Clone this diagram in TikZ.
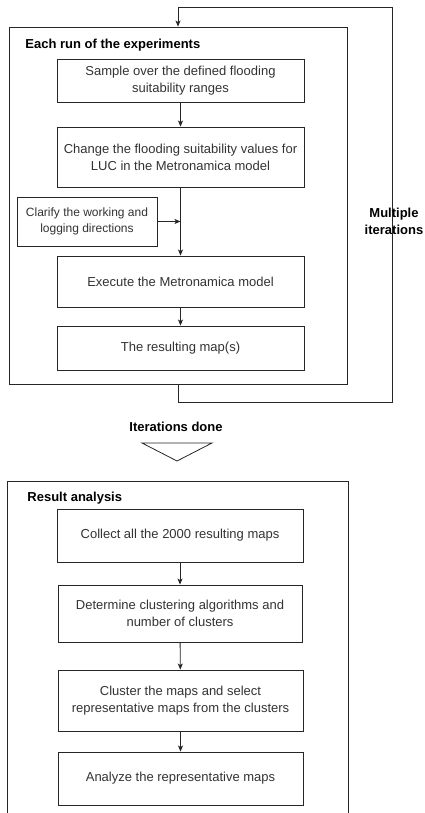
\documentclass[tikz,border=0pt]{standalone}
\usepackage{fontspec}
\setmainfont{Liberation Sans}
\usetikzlibrary{arrows.meta}
\definecolor{txt}{HTML}{333333}
\definecolor{ln}{HTML}{262626}
\begin{document}
\begin{tikzpicture}[x=1pt,y=-1pt,
  line width=0.9pt,
  arr/.style={draw=ln,-{Stealth[length=6pt,width=5pt,inset=1.5pt]}},
  stepbox/.style={draw=ln,rectangle,align=center,text=txt,inner sep=2pt,
    font=\fontsize{13}{17}\selectfont},
  smallbox/.style={stepbox,font=\fontsize{12}{16}\selectfont},
  frame/.style={draw=ln,rectangle,inner sep=0pt},
  title/.style={inner sep=0pt,font=\bfseries\fontsize{13}{17}\selectfont,text=black,align=center}]
\useasboundingbox (0,0) rectangle (424,813);
\clip (0,0) rectangle (424,813);
\fill[white] (0,0) rectangle (424,813);

% outer frames
\node[frame,minimum width=338pt,minimum height=357pt] (run) at (178,205.5) {};
\node[frame,minimum width=341pt,minimum height=349pt] (res) at (177.5,655.5) {};

% titles
\node[title,anchor=west] (runtitle) at (25,45) {Each run of the experiments};
\node[title,anchor=west] (restitle) at (27,498) {Result analysis};

% first block
\node[stepbox,minimum width=247pt,minimum height=43pt] (A) at (180.5,80.5) {Sample over the defined flooding\\suitability ranges};
\node[stepbox,minimum width=247pt,minimum height=60pt] (B) at (180.5,157) {Change the flooding suitability values for\\LUC in the Metronamica model};
\node[smallbox,minimum width=140pt,minimum height=49pt] (C) at (87,221.5) {Clarify the working and\\logging directions};
\node[stepbox,minimum width=247pt,minimum height=51pt] (D) at (180.5,281.5) {Execute the Metronamica model};
\node[stepbox,minimum width=247pt,minimum height=44pt] (E) at (180.5,348) {The resulting map(s)};

\draw[arr] (A) -- (B);
\draw[arr] (B) -- (D);
\draw[arr] (C.east) -- (C.east -| B.south);
\draw[arr] (D) -- (E);

% loop
\coordinate (lr) at (392,402);
\coordinate (ur) at (392,7);
\draw[arr] (run.south) |- (lr) -- (ur) -| (run.north);
\node[title] (mult) at (394,221.5) {Multiple\\iterations};

% iterations done
\node[title] (done) at (176,427) {Iterations done};
\draw[ln,line width=0.8pt,line join=miter] (142,443) -- (212,443) -- (177,461) -- cycle;

% second block
\node[stepbox,minimum width=246pt,minimum height=53pt] (F) at (180,535.5) {Collect all the 2000 resulting maps};
\node[stepbox,minimum width=244pt,minimum height=57pt] (G) at (180,613.5) {Determine clustering algorithms and\\number of clusters};
\node[stepbox,minimum width=245pt,minimum height=61pt] (H) at (180.5,700.5) {Cluster the maps and select\\representative maps from the clusters};
\node[stepbox,minimum width=245pt,minimum height=53pt] (I) at (180.5,778.5) {Analyze the representative maps};

\draw[arr] (F) -- (G);
\draw[arr] (G) -- (H);
\draw[arr] (H) -- (I);
\end{tikzpicture}
\end{document}
